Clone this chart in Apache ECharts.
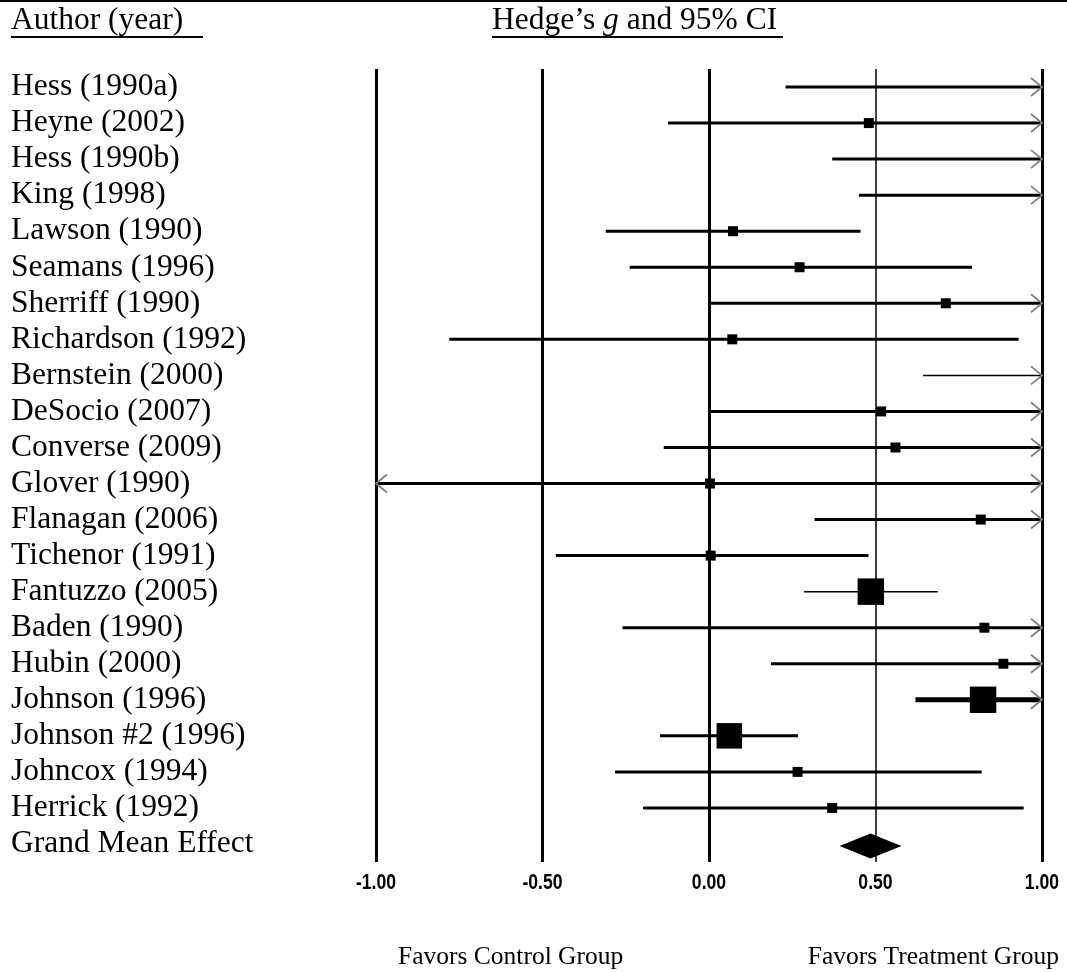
<!DOCTYPE html>
<html><head><meta charset="utf-8">
<script src="https://cdn.jsdelivr.net/npm/echarts@6/dist/echarts.min.js"></script>
<style>html,body{margin:0;padding:0;background:#fff}#c{width:1067px;height:972px}</style>
</head><body><div id="c"></div>
<script>
// ---------------- data ----------------
const studies = ['Hess (1990a)', 'Heyne (2002)', 'Hess (1990b)', 'King (1998)', 'Lawson (1990)',
  'Seamans (1996)', 'Sherriff (1990)', 'Richardson (1992)', 'Bernstein (2000)', 'DeSocio (2007)',
  'Converse (2009)', 'Glover (1990)', 'Flanagan (2006)', 'Tichenor (1991)', 'Fantuzzo (2005)',
  'Baden (1990)', 'Hubin (2000)', 'Johnson (1996)', 'Johnson #2 (1996)', 'Johncox (1994)', 'Herrick (1992)'];
const effectG = [1.25, 0.48, 1.20, 1.30, 0.072, 0.272, 0.711, 0.07, 1.45, 0.517,
  0.56, 0.003, 0.816, 0.005, 0.486, 0.827, 0.884, 0.823, 0.061, 0.266, 0.37];
const ciLower = [0.23, -0.123, 0.37, 0.45, -0.31, -0.238, 0.0, -0.78, 0.643, 0.0,
  -0.136, -1.12, 0.317, -0.46, 0.285, -0.26, 0.186, 0.62, -0.147, -0.282, -0.198];
const ciUpper = [2.27, 1.083, 2.03, 2.15, 0.455, 0.79, 1.42, 0.93, 2.26, 1.03,
  1.26, 1.13, 1.315, 0.479, 0.687, 1.91, 1.58, 1.026, 0.267, 0.819, 0.945];
const weights = [1, 1, 1, 1, 1, 1, 1, 1, 1, 1, 1, 1, 1, 1, 7, 1, 1, 7, 6.5, 1, 1];
const grandLabel = 'Grand Mean Effect';
const grandMean = 0.485, grandLower = 0.392, grandUpper = 0.578;
const tickValues = [-1, -0.5, 0, 0.5, 1];
const tickLabels = ['-1.00', '-0.50', '0.00', '0.50', '1.00'];

// ---------------- styles ----------------
const lineWidthByStudy = { 'Bernstein (2000)': 1.5, 'Fantuzzo (2005)': 1.5, 'Johnson (1996)': 5 };
const baseMarker = 10;
const serif = "'Liberation Serif', 'Times New Roman', serif";
const sansBold = "bold 22px 'Liberation Sans', Arial, sans-serif";

const categories = studies.concat([grandLabel]);
const ciData = studies.map((s, i) => [i, ciLower[i], ciUpper[i], effectG[i], weights[i]]);

function renderCI(params, api) {
  const i = api.value(0), lo = api.value(1), hi = api.value(2), g = api.value(3), w = api.value(4);
  const y = api.coord([0, i])[1];
  const x0 = api.coord([Math.max(lo, -1), i])[0];
  const x1 = api.coord([Math.min(hi, 1), i])[0];
  const lw = lineWidthByStudy[studies[i]] || 3;
  const kids = [{ type: 'line', shape: { x1: x0, y1: y, x2: x1, y2: y }, style: { stroke: '#000', lineWidth: lw } }];
  const head = 11, half = 9;
  if (hi > 1) kids.push({ type: 'polyline', shape: { points: [[x1 - head, y - half], [x1, y], [x1 - head, y + half]] }, style: { stroke: '#808080', lineWidth: 1.8, fill: null } });
  if (lo < -1) kids.push({ type: 'polyline', shape: { points: [[x0 + head, y - half], [x0, y], [x0 + head, y + half]] }, style: { stroke: '#808080', lineWidth: 1.8, fill: null } });
  if (g >= -1 && g <= 1) {
    const s = baseMarker * Math.sqrt(w);
    const gx = api.coord([g, i])[0];
    kids.push({ type: 'rect', shape: { x: gx - s / 2, y: y - s / 2, width: s, height: s }, style: { fill: '#000' } });
  }
  return { type: 'group', children: kids };
}

function renderDiamond(params, api) {
  const i = api.value(0);
  const pL = api.coord([api.value(1), i]), pM = api.coord([api.value(2), i]), pU = api.coord([api.value(3), i]);
  const h = 12.5, y = pM[1] + 2;
  return { type: 'polygon', shape: { points: [[pL[0], y], [pM[0], y - h], [pU[0], y], [pM[0], y + h]] }, style: { fill: '#000' } };
}

function renderTick(params, api) {
  const cs = params.coordSys;
  const x = api.coord([api.value(0), 0])[0];
  return { type: 'text', x: x, y: cs.y + cs.height + 21, scaleX: 0.8,
    style: { text: tickLabels[params.dataIndex], font: sansBold, fill: '#000', align: 'center', verticalAlign: 'middle' } };
}

const refLines = tickValues.map(v => ({ xAxis: v, lineStyle: { width: v === 0.5 ? 1.5 : 3, color: '#000', type: 'solid' } }));

const chart = echarts.init(document.getElementById('c'), null, { renderer: 'canvas' });
chart.setOption({
  backgroundColor: '#fff',
  animation: false,
  grid: { left: 376, right: 25, top: 69, bottom: 110, containLabel: false },
  xAxis: {
    type: 'value', min: -1, max: 1, interval: 0.5,
    axisLine: { show: false }, axisTick: { show: false }, splitLine: { show: false },
    axisLabel: { show: false }
  },
  yAxis: {
    type: 'category', data: categories, inverse: true,
    axisLine: { show: false }, axisTick: { show: false }, splitLine: { show: false },
    axisLabel: { interval: 0, align: 'left', margin: 365, fontFamily: serif, fontSize: 31.5, color: '#000' }
  },
  series: [
    {
      type: 'custom', renderItem: renderCI, data: ciData, z: 3,
      encode: { x: [1, 2, 3], y: 0 },
      markLine: { silent: true, symbol: 'none', label: { show: false }, data: refLines, z: 2 }
    },
    {
      type: 'custom', renderItem: renderDiamond, z: 5,
      data: [[studies.length, grandLower, grandMean, grandUpper]],
      encode: { x: [1, 2, 3], y: 0 }
    },
    {
      type: 'custom', renderItem: renderTick, z: 5, clip: false,
      data: tickValues.map(v => [v]),
      encode: { x: 0 }
    }
  ],
  graphic: [
    { type: 'rect', shape: { x: 0, y: 0, width: 1067, height: 2 }, style: { fill: '#000' } },
    { type: 'text', left: 11, top: 5, style: { text: 'Author (year)', font: '31.5px ' + serif, fill: '#000' } },
    { type: 'rect', shape: { x: 11, y: 36, width: 192, height: 2 }, style: { fill: '#000' } },
    { type: 'text', left: 492, top: 5, style: {
        text: '{a|Hedge’s }{b|g}{a| and 95% CI}',
        rich: { a: { fontFamily: serif, fontSize: 31.5, fill: '#000' }, b: { fontFamily: serif, fontSize: 31.5, fontStyle: 'italic', fill: '#000' } } } },
    { type: 'rect', shape: { x: 492, y: 36, width: 291, height: 2 }, style: { fill: '#000' } },
    { type: 'text', left: 398, top: 944, style: { text: 'Favors Control Group', font: '25.5px ' + serif, fill: '#000' } },
    { type: 'text', right: 8, top: 944, style: { text: 'Favors Treatment Group', font: '25.5px ' + serif, fill: '#000' } }
  ]
});
</script></body></html>
